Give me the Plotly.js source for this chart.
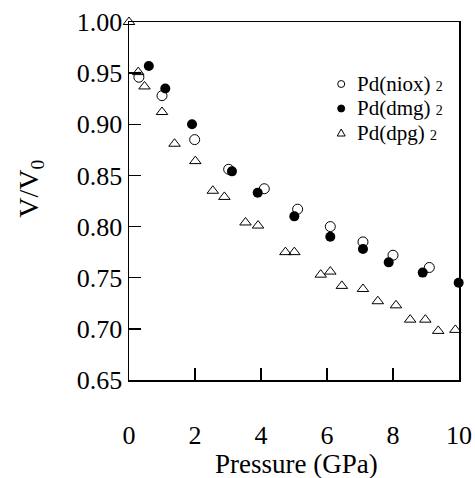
<!DOCTYPE html>
<html>
<head>
<meta charset="utf-8">
<script src="https://cdn.plot.ly/plotly-3.0.1.min.js"></script>
<style>html,body{margin:0;padding:0;background:#fff;}</style>
</head>
<body>
<div id="chart" style="width:475px;height:478px;"></div>
<script>
// Pd(niox)2 — open circles
const nioxP = [0.30, 1.00, 1.99, 3.02, 4.10, 5.11, 6.10, 7.09, 8.00, 9.10];
const nioxV = [0.946, 0.928, 0.885, 0.856, 0.837, 0.817, 0.800, 0.785, 0.772, 0.760];
// Pd(dmg)2 — filled circles
const dmgP = [0.60, 1.10, 1.91, 3.12, 3.90, 5.01, 6.10, 7.09, 7.87, 8.90, 9.99];
const dmgV = [0.957, 0.935, 0.900, 0.854, 0.833, 0.810, 0.790, 0.778, 0.765, 0.755, 0.745];
// Pd(dpg)2 — open triangles
const dpgP = [0.00, 0.28, 0.47, 1.00, 1.38, 2.01, 2.54, 2.89, 3.53, 3.91, 4.74, 5.01,
              5.81, 6.10, 6.45, 7.09, 7.54, 8.09, 8.52, 8.98, 9.37, 9.89];
const dpgV = [1.000, 0.951, 0.937, 0.912, 0.881, 0.864, 0.835, 0.829, 0.804, 0.801, 0.775, 0.775,
              0.753, 0.756, 0.742, 0.739, 0.727, 0.723, 0.709, 0.709, 0.698, 0.699];
const seriesNames = ['Pd(niox)', 'Pd(dmg)', 'Pd(dpg)'];
const seriesSub = '2';
const xTitle = 'Pressure (GPa)';
const yTitle = 'V/V<sub>0</sub>';

const font = "'Liberation Serif', 'Times New Roman', serif";
const symbols = ['circle-open', 'circle', 'triangle-up-open'];
const xs = [nioxP, dmgP, dpgP];
const ys = [nioxV, dmgV, dpgV];
const traces = xs.map((x, i) => ({
  x: x, y: ys[i], name: seriesNames[i] + ' ' + seriesSub, type: 'scatter', mode: 'markers',
  cliponaxis: false, showlegend: false,
  marker: {symbol: symbols[i], size: 10, color: '#000', line: {width: i === 1 ? 0 : 1, color: '#000'}}
}));

// hand-made legend (tighter row spacing than Plotly's built-in legend)
const legX = 0.643, legTextX = 0.6853;
const legY = [0.8268, 0.7584, 0.6899];
const annotations = [];
const shapes = [];
seriesNames.forEach((n, i) => {
  annotations.push({xref: 'paper', yref: 'paper', x: legTextX, y: legY[i], xanchor: 'left', yanchor: 'middle',
    showarrow: false, text: n + ' <span style="font-size:14px">' + seriesSub + '</span>',
    font: {family: font, size: 21, color: '#000'}});
  const base = {xref: 'paper', yref: 'paper', xsizemode: 'pixel', ysizemode: 'pixel',
    xanchor: legX, yanchor: legY[i], line: {color: '#000', width: 1}};
  if (i === 2) {
    shapes.push(Object.assign({type: 'path', path: 'M -4 -3 L 4 -3 L 0 4 Z', fillcolor: 'rgba(0,0,0,0)'}, base));
  } else {
    shapes.push(Object.assign({type: 'circle', x0: -3.5, x1: 3.5, y0: -3.5, y1: 3.5,
      fillcolor: i === 1 ? '#000' : 'rgba(0,0,0,0)'}, base));
  }
});
annotations.push({xref: 'paper', yref: 'paper', x: 0.508, y: -0.234, xanchor: 'center', yanchor: 'middle',
  showarrow: false, text: xTitle, font: {family: font, size: 27, color: '#000'}});
annotations.push({xref: 'paper', yref: 'paper', x: -0.301, y: 0.5335, xanchor: 'center', yanchor: 'middle',
  showarrow: false, textangle: -90, text: yTitle, font: {family: font, size: 28, color: '#000'}});

const axisCommon = {
  showline: true, mirror: true, linecolor: '#000', linewidth: 1.5,
  ticks: 'inside', ticklen: 12, tickwidth: 1.5, tickcolor: '#000',
  showgrid: false, zeroline: false,
  tickfont: {family: font, size: 26, color: '#000'}
};
const layout = {
  width: 475, height: 478,
  margin: {l: 128.5, r: 16, t: 22, b: 98},
  paper_bgcolor: '#fff', plot_bgcolor: '#fff',
  font: {family: font, color: '#000'},
  showlegend: false,
  annotations: annotations,
  shapes: shapes,
  xaxis: Object.assign({}, axisCommon, {range: [0, 10], dtick: 2, tick0: 0, ticklabelstandoff: 31}),
  yaxis: Object.assign({}, axisCommon, {range: [0.65, 1.0], dtick: 0.05, tick0: 0.65, tickformat: '.2f'})
};
Plotly.newPlot('chart', traces, layout, {displayModeBar: false, staticPlot: true});
</script>
</body>
</html>
